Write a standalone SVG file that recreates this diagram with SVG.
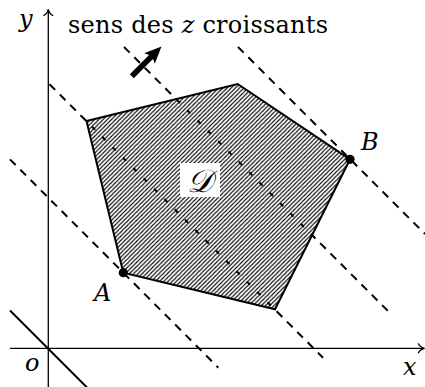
<svg xmlns="http://www.w3.org/2000/svg" xmlns:xlink="http://www.w3.org/1999/xlink" width="425" height="387" viewBox="0 0 425 387">
<style>
  .axis { stroke: #000; stroke-width: 1.3; fill: none; }
  .head { stroke: #000; stroke-width: 1.3; fill: none; stroke-linecap: round; }
  .dash { stroke: #000; stroke-width: 2; fill: none; }
  .outer { stroke-dasharray: 8 6.6; }
  .inner { stroke-dasharray: 4.5 10.1; stroke-dashoffset: -1.75; }
  .edge { stroke: #000; stroke-width: 2; fill: none; stroke-linejoin: miter; }
</style>
<defs>
  <pattern id="hatch" patternUnits="userSpaceOnUse" width="4.2" height="4.2">
    <path d="M-1,1 L1,-1 M0,4.2 L4.2,0 M3.2,5.2 L5.2,3.2" stroke="#000" stroke-width="1.05"/>
  </pattern>
  <polygon id="dom" points="123.3,272.7 86.5,121 237.7,84 350,159.3 275,309.3"/>
  <clipPath id="inside"><use xlink:href="#dom"/></clipPath>
  <mask id="outside" maskUnits="userSpaceOnUse" x="0" y="0" width="425" height="387">
    <rect x="0" y="0" width="425" height="387" fill="#fff"/>
    <use xlink:href="#dom" fill="#000"/>
  </mask>
  <g id="dlines">
    <line x1="10" y1="159.4" x2="218.3" y2="367.7"/>
    <line x1="49.5" y1="84.2" x2="323" y2="357.7"/>
    <line x1="124" y1="47" x2="388.3" y2="311.3"/>
    <line x1="238" y1="47" x2="425" y2="234"/>
  </g>
</defs>

<g id="level-lines">
  <use xlink:href="#dlines" class="dash outer" mask="url(#outside)"/>
</g>

<g id="domain-D">
  <use xlink:href="#dom" fill="url(#hatch)"/>
  <use xlink:href="#dlines" class="dash inner" clip-path="url(#inside)"/>
  <use xlink:href="#dom" class="edge"/>
  <rect x="180" y="163" width="40" height="34" fill="#fff"/>
  <text x="200" y="192" text-anchor="middle" font-family="'DejaVu Serif', serif" font-size="32" font-style="italic">𝒟</text>
</g>

<g id="axes">
  <line class="axis" x1="48.3" y1="387" x2="48.3" y2="9.8"/>
  <path class="head" d="M-6,-4.5 C-5,-2 -2,-0.5 0,0 C-2,0.5 -5,2 -6,4.5" transform="translate(48.3,9.3) rotate(-90)"/>
  <line class="axis" x1="10" y1="348.3" x2="424" y2="348.3"/>
  <path class="head" d="M-6,-4.5 C-5,-2 -2,-0.5 0,0 C-2,0.5 -5,2 -6,4.5" transform="translate(424.5,348.3)"/>
  <text x="19" y="27" font-family="'DejaVu Serif', serif" font-size="24" font-style="italic">y</text>
  <text x="403" y="375" font-family="'DejaVu Serif', serif" font-size="24" font-style="italic">x</text>
  <text x="25" y="371" font-family="'DejaVu Serif', serif" font-size="24" font-style="italic">o</text>
</g>

<g id="zero-line">
  <line x1="10" y1="310.5" x2="87" y2="387.5" stroke="#000" stroke-width="2"/>
</g>

<g id="point-A">
  <circle cx="123.3" cy="272.7" r="4.6" fill="#000"/>
  <text x="94" y="301" font-family="'DejaVu Serif', serif" font-size="24" font-style="italic">A</text>
</g>
<g id="point-B">
  <circle cx="350" cy="159.3" r="4.6" fill="#000"/>
  <text x="361" y="150" font-family="'DejaVu Serif', serif" font-size="24" font-style="italic">B</text>
</g>

<g id="direction">
  <g transform="translate(161.5,46.5) rotate(-45)">
    <line x1="-42" y1="0" x2="-11" y2="0" stroke="#000" stroke-width="5.5"/>
    <path d="M0,0 L-17,-7.5 Q-12,0 -17,7.5 Z" fill="#000"/>
  </g>
  <text x="68" y="33" font-family="'DejaVu Serif', serif" font-size="24" textLength="260" lengthAdjust="spacing">sens des <tspan font-style="italic">z</tspan> croissants</text>
</g>
</svg>
